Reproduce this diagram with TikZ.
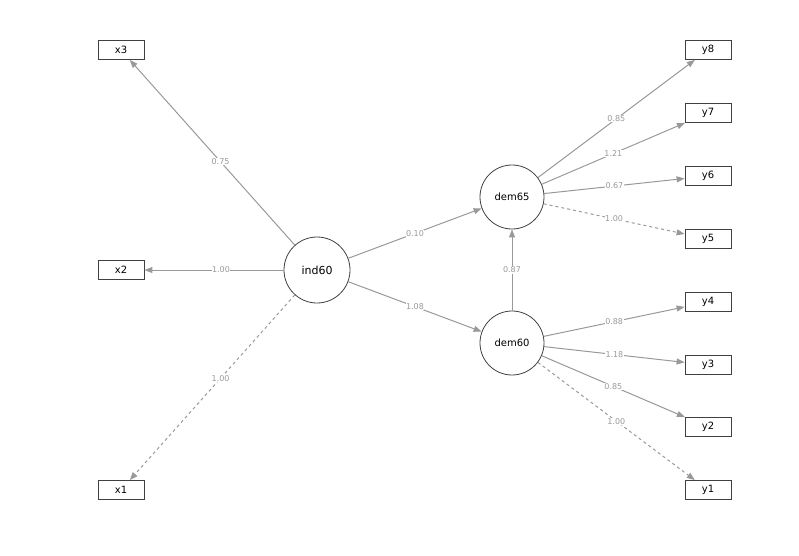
\documentclass[tikz,border=0pt]{standalone}
\usepackage{fontspec}
\setmainfont{DejaVu Sans}
\usetikzlibrary{arrows.meta}
\begin{document}
\begin{tikzpicture}[x=1pt,y=-1pt,
  obs/.style={draw=black!75,line width=0.8pt,minimum width=46pt,minimum height=19pt,inner sep=0pt,font=\fontsize{10}{10}\selectfont},
  lat/.style={draw=black!75,line width=0.8pt,circle,minimum size=64pt,inner sep=0pt,font=\fontsize{11}{11}\selectfont},
  lat2/.style={lat,font=\fontsize{10}{10}\selectfont},
  ed/.style={draw=black!40,line width=1pt,-{Triangle[length=8pt,width=6pt]}},
  lb/.style={fill=white,inner sep=0.5pt,text=black!40,font=\fontsize{8}{8}\selectfont}]
\useasboundingbox (0,0) rectangle (799,555);
\node[obs] (x3) at (121,50) {x3};
\node[obs] (x2) at (121,270) {x2};
\node[obs] (x1) at (121,490) {x1};
\node[obs] (y8) at (708,50) {y8};
\node[obs] (y7) at (708,113) {y7};
\node[obs] (y6) at (708,176) {y6};
\node[obs] (y5) at (708,239) {y5};
\node[obs] (y4) at (708,302) {y4};
\node[obs] (y3) at (708,365) {y3};
\node[obs] (y2) at (708,427) {y2};
\node[obs] (y1) at (708,490) {y1};
\node[lat,minimum size=66pt] (ind) at (317,270) {ind60};
\node[lat2] (d65) at (512,197) {dem65};
\node[lat2] (d60) at (512,343) {dem60};
\draw[ed] (ind) -- node[lb,pos=0.45]{0.75} (x3);
\draw[ed] (ind) -- node[lb,pos=0.45]{1.00} (x2);
\draw[ed,dashed] (ind) -- node[lb,pos=0.45]{1.00} (x1);
\draw[ed] (ind) -- node[lb]{0.10} (d65);
\draw[ed] (ind) -- node[lb]{1.08} (d60);
\draw[ed] (d60) -- node[lb]{0.87} (d65);
\draw[ed] (d65) -- node[lb]{0.85} (y8);
\draw[ed] (d65) -- node[lb]{1.21} (y7);
\draw[ed] (d65) -- node[lb]{0.67} (y6);
\draw[ed,dashed] (d65) -- node[lb]{1.00} (y5);
\draw[ed] (d60) -- node[lb]{0.88} (y4);
\draw[ed] (d60) -- node[lb]{1.18} (y3);
\draw[ed] (d60) -- node[lb]{0.85} (y2);
\draw[ed,dashed] (d60) -- node[lb]{1.00} (y1);
\end{tikzpicture}
\end{document}
